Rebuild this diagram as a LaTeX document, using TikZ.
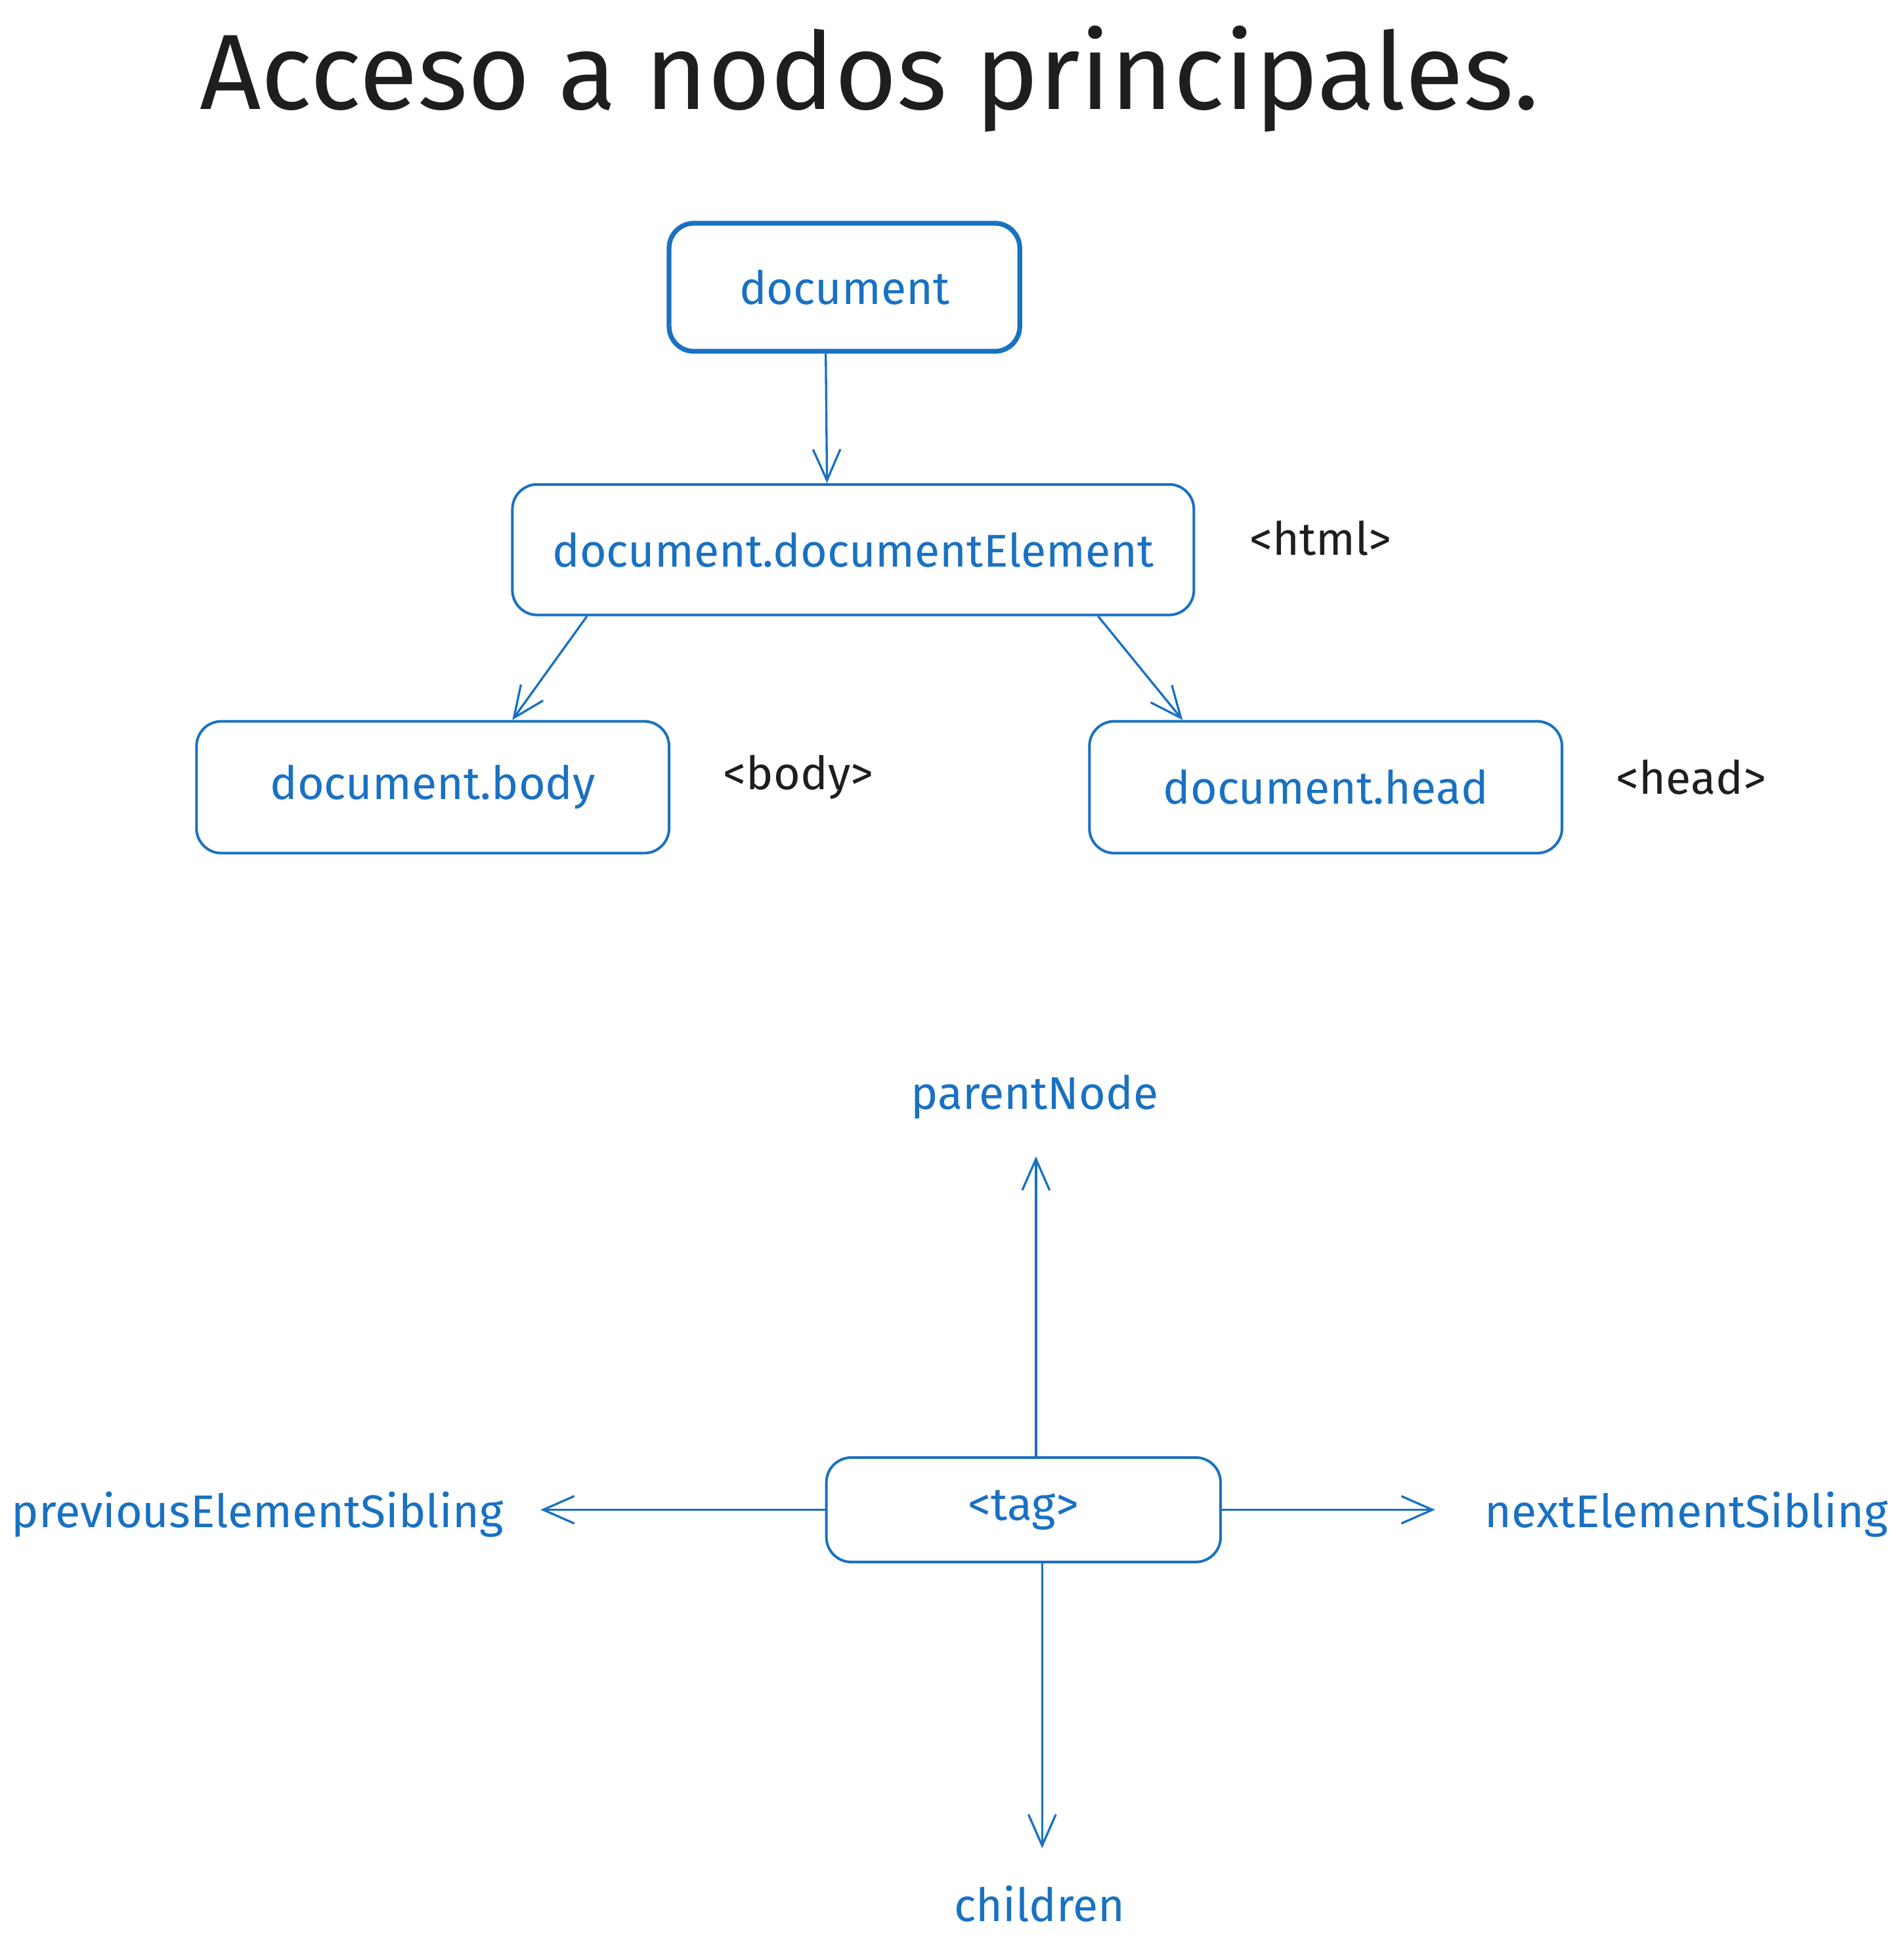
\documentclass[tikz,border=0pt]{standalone}
\usepackage{fontspec}
\setmainfont{Fira Sans}
\usetikzlibrary{positioning,arrows.meta}
\definecolor{exblue}{HTML}{1971C2}
\definecolor{exblack}{HTML}{1E1E1E}

\begin{document}
\begin{tikzpicture}%
	[box/.style = {rectangle, rounded corners=0.2cm, draw=exblue, text=exblue, line width=0.6pt, font=\fontsize{10.5}{12}\selectfont},
	lbl/.style = {text=exblue, inner sep=0pt, outer sep=0.3cm, font=\fontsize{10.5}{12}\selectfont},
	htmltag/.style = {text=exblack, inner sep=0pt, font=\fontsize{10.5}{12}\selectfont},
	arr/.style = {draw=exblue, line width=0.5pt, -{Straight Barb[length=2.5mm,width=2.2mm]}}]
	\useasboundingbox (0,0) rectangle (15.31,-15.68);
	\node[anchor=base west, inner sep=0pt, text=exblack, font=\fontsize{24.5}{30}\selectfont] (title) at (1.60,-0.88) {Acceso a nodos principales.};
	
	\node[box, line width=1.1pt, minimum width=2.82cm, minimum height=1.03cm] (doc) at (6.79,-2.31) {document};
	\node[box, minimum width=5.48cm, minimum height=1.05cm] (docel) at (6.86,-4.42) {document.documentElement};
	\node[box, minimum width=3.80cm, minimum height=1.06cm] (body) at (3.48,-6.33) {document.body};
	\node[box, minimum width=3.80cm, minimum height=1.06cm] (head) at (10.66,-6.33) {document.head};
	
	\node[htmltag, right=0.43cm of docel, yshift=0.09cm] (html) {<html>};
	\node[htmltag, right=0.42cm of body, yshift=0.08cm] (bodytag) {<body>};
	\node[htmltag, right=0.42cm of head, yshift=0.08cm] (headtag) {<head>};
	
	\draw[arr] ([xshift=-0.15cm]doc.south) -- ([xshift=-0.21cm]docel.north);
	\draw[arr] ([xshift=0.61cm]docel.south west) -- ([xshift=2.55cm]body.north west);
	\draw[arr] ([xshift=-0.78cm]docel.south east) -- ([xshift=0.76cm]head.north west);
	
	% nodos vecinos de un elemento
	\node[box, minimum width=3.17cm, minimum height=0.84cm] (tagbox) at (8.23,-12.14) {<tag>};
	\node[lbl, anchor=base] (parent) at (8.32,-8.92) {parentNode};
	\node[lbl, anchor=base] (prev) at (2.07,-12.28) {previousElementSibling};
	\node[lbl, anchor=base] (next) at (13.56,-12.28) {nextElementSibling};
	\node[lbl, anchor=base] (children) at (8.36,-15.45) {children};
	
	\draw[arr] ([xshift=0.1cm]tagbox.north) -- ([xshift=0.1cm]tagbox.north |- parent.south);
	\draw[arr] (tagbox.west) -- (tagbox.west -| prev.east);
	\draw[arr] (tagbox.east) -- ([xshift=-0.1cm]tagbox.east -| next.west);
	\draw[arr] ([xshift=0.15cm]tagbox.south) -- ([xshift=0.15cm]tagbox.south |- children.north);
\end{tikzpicture}
\end{document}
